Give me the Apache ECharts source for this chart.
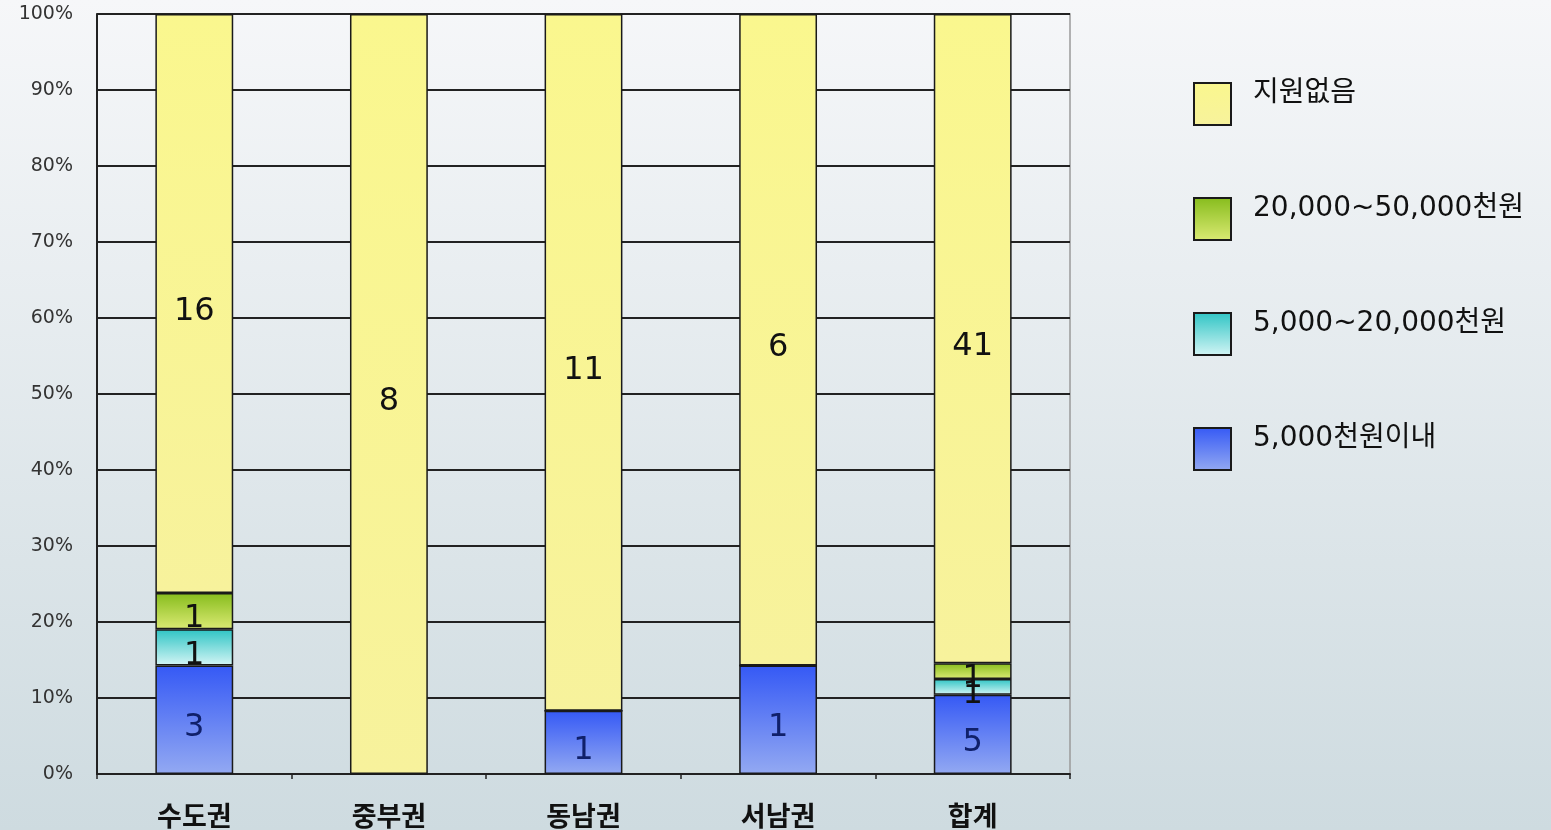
<!DOCTYPE html>
<html><head><meta charset="utf-8">
<script src="https://cdn.jsdelivr.net/npm/echarts@6/dist/echarts.min.js"></script>
<style>html,body{margin:0;padding:0;}#c{width:1551px;height:830px;background:linear-gradient(#f6f7f9,#cedbe0);}</style>
</head><body><div id="c"></div>
<script>
const categories = ['수도권','중부권','동남권','서남권','합계'];
const seriesNames = ['5,000천원이내','5,000~20,000천원','20,000~50,000천원','지원없음'];
const legendOrder = ['지원없음','20,000~50,000천원','5,000~20,000천원','5,000천원이내'];
const under5000 = [3, 0, 1, 1, 5];
const s5000to20000 = [1, 0, 0, 0, 1];
const s20000to50000 = [1, 0, 0, 0, 1];
const noSupport = [16, 8, 11, 6, 41];
const yTicks = [0,10,20,30,40,50,60,70,80,90,100];

const counts = [under5000, s5000to20000, s20000to50000, noSupport];
const totals = categories.map((_, i) => counts.reduce((a, s) => a + s[i], 0));

function grad(top, bottom){
  return new echarts.graphic.LinearGradient(0,0,0,1,[{offset:0,color:top},{offset:1,color:bottom}]);
}
const fills = [
  grad('#3559f5','#93a9f2'),
  grad('#2ec4c4','#d4f5f5'),
  grad('#86bc1c','#dbea74'),
  grad('#faf78e','#f7f29c')
];
const labelColors = ['#10206a','#111','#111','#111'];

const chart = echarts.init(document.getElementById('c'));
chart.setOption({
  animation:false,
  backgroundColor:'transparent',
  grid:{left:97,right:481,top:14,bottom:56,show:true,borderColor:'#9a9a9a',borderWidth:1.5,backgroundColor:'transparent'},
  legend:{
    orient:'vertical', left:1193, top:80, padding:0,
    data:legendOrder,
    itemWidth:37, itemHeight:42, itemGap:64,
    formatter: n => '{p| }{t|' + n + '}\n{s| }',
    textStyle:{color:'#111',
      rich:{
        p:{width:17,fontSize:10},
        t:{fontSize:28,lineHeight:34,color:'#111',fontFamily:'DejaVu Sans, Noto Sans CJK KR'},
        s:{fontSize:10,lineHeight:20,height:20}
      }},
    icon:'rect'
  },
  xAxis:{
    type:'category', data:categories,
    axisLine:{lineStyle:{color:'#222',width:2}},
    axisTick:{show:true,length:5,lineStyle:{color:'#222',width:1.5}},
    axisLabel:{fontSize:27,color:'#111',fontWeight:'bold',fontFamily:'Noto Sans CJK KR',margin:28}
  },
  yAxis:{
    type:'value', min:0, max:100, interval:10,
    axisLine:{show:true,lineStyle:{color:'#222',width:2}},
    axisTick:{show:false},
    splitLine:{lineStyle:{color:'#222',width:2}},
    axisLabel:{fontSize:19,color:'#333',fontFamily:'DejaVu Sans',margin:24,
      formatter:v => yTicks.includes(v) ? v + '%' : ''}
  },
  series: seriesNames.map((name, k) => ({
    name, type:'bar', stack:'total', barWidth:'40%',
    itemStyle:{color:fills[k],borderColor:'#1a1a1a',borderWidth:1.5},
    label:{show:true,position:'inside',offset:[0,8],fontSize:32,color:labelColors[k],fontFamily:'DejaVu Sans',
      formatter:p => counts[k][p.dataIndex] > 0 ? String(counts[k][p.dataIndex]) : ''},
    data: counts[k].map((v,i) => v / totals[i] * 100)
  }))
});
</script></body></html>
